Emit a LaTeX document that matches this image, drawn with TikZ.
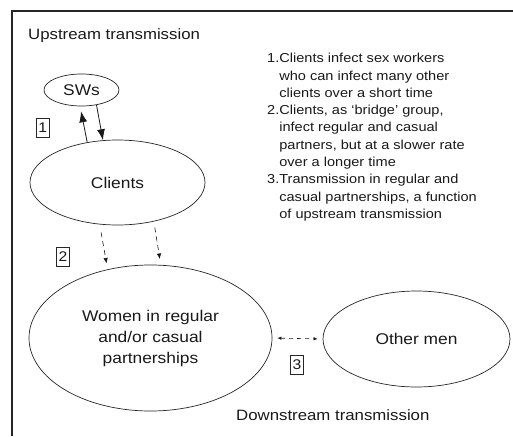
\documentclass[tikz,border=0pt]{standalone}
\usepackage{fontspec}
\setmainfont{Liberation Sans}[FakeStretch=1.12]
\usepackage{xcolor}
\usetikzlibrary{shapes.geometric,arrows.meta}

\begin{document}
\begin{tikzpicture}[x=1pt, y=-1pt,
    main/.style = {ellipse, draw=black!85, line width=0.7pt, text=black!90, font=\fontsize{15.5}{21}\selectfont, align=center, inner sep=1pt},
    num/.style = {rectangle, draw=black!85, line width=0.6pt, text=black!90, font=\fontsize{14}{16}\selectfont, inner xsep=2pt, inner ysep=0pt, minimum height=19pt},
    lbl/.style = {text=black!90, font=\fontsize{15}{18}\selectfont, inner sep=0pt},
    arr/.style = {-{Latex[length=11pt,width=8pt]}, line width=0.8pt, black!90},
    darr/.style = {-{Latex[length=5.5pt,width=4.5pt]}, dash pattern=on 5pt off 4pt, line width=0.6pt, black!90}]
    \useasboundingbox (0,0) rectangle (513,436);
    \draw[line width=1.1pt, black!85] (513,11) -- (12,11) -- (12,436);
    \node[lbl, anchor=base west] (up) at (28,39.3) {Upstream transmission};
    \node[lbl, anchor=base west] (down) at (236,420) {Downstream transmission};
    \node[main, minimum width=75pt, minimum height=32pt] (sw) at (81.5,90) {SWs};
    \node[main, minimum width=175pt, minimum height=85pt] (cl) at (117.5,182.5) {Clients};
    \node[main, minimum width=243pt, minimum height=146pt] (wo) at (150.5,338) {Women in regular\\and/or casual\\partnerships};
    \node[main, minimum width=187pt, minimum height=96pt] (om) at (416.5,339) {Other men};
    \node[num] (n1) at (42.7,128) {1};
    \node[num] (n2) at (63,257) {2};
    \node[num] (n3) at (297,365) {3};
    \node[lbl, anchor=north west, font=\fontsize{13}{17.3}\selectfont] (notes) at (267,50.4) {%
      \begin{tabular}{@{}l@{}l@{}}
        1.&Clients infect sex workers\\
        &who can infect many other\\
        &clients over a short time\\
        2.&Clients, as ‘bridge’ group,\\
        &infect regular and casual\\
        &partners, but at a slower rate\\
        &over a longer time\\
        3.&Transmission in regular and\\
        &casual partnerships, a function\\
        &of upstream transmission
      \end{tabular}};
    \draw[arr, shorten >=5pt] (cl.127.5) -- (sw.265);
    \draw[arr] (sw.-45.6) -- (cl.109);
    \draw[darr, shorten <=8pt, shorten >=6pt] (cl.247) -- (wo.122.5);
    \draw[darr, shorten <=6pt, shorten >=6pt] (cl.-47.5) -- (wo.82.6);
    \draw[{Latex[length=4pt,width=3.5pt]}-{Latex[length=4pt,width=3.5pt]}, dash pattern=on 4pt off 4pt, line width=0.6pt, black!90, shorten <=5pt, shorten >=5pt] (wo.east) -- (om.west);
\end{tikzpicture}
\end{document}
